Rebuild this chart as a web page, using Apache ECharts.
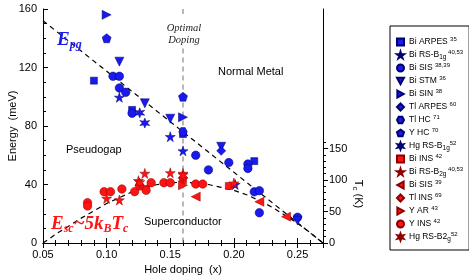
<!DOCTYPE html>
<html><head><meta charset="utf-8">
<script src="https://cdn.jsdelivr.net/npm/echarts@6/dist/echarts.min.js"></script>
<style>html,body{margin:0;padding:0;background:#fff}#c{width:469px;height:280px}</style>
</head><body><div id="c"></div>
<script>
// ---------- data ----------
const xTickLabels = [0.05, 0.10, 0.15, 0.20, 0.25];
const yTickLabels = [0, 40, 80, 120, 160];
const tcTickLabels = [0, 50, 100, 150];
const tcMinorTicks = [10, 20, 30, 40, 60, 70, 80, 90, 110, 120, 130, 140, 160];
const meVperK = 5 * 0.08617;          // E_sc ~ 5 kB Tc

const epgLine = [[0.05, 152], [0.27, 0]];
const domeX = [0.05, 0.06, 0.07, 0.08, 0.09, 0.10, 0.11, 0.12, 0.13, 0.14, 0.15, 0.16, 0.17, 0.18, 0.19, 0.20, 0.21, 0.22, 0.23, 0.24, 0.25, 0.26, 0.27];
const domeE = [0, 6, 11.5, 17, 22, 27, 31, 35, 38, 40, 41.2, 41.5, 41, 40, 38, 36, 33, 29, 24.5, 19, 13.5, 7, 0];
const optimalLine = [[0.16, 160], [0.16, 154], [0.16, '-'], [0.16, 133], [0.16, 0]];

// blue: pseudogap energies (meV)
const biArpes = [[0.09, 111], [0.12, 91], [0.16, 74.5], [0.216, 56]];
const biRsB1g = [[0.11, 99.6], [0.15, 72.7], [0.16, 63], [0.201, 40]];
const biSisB = [[0.105, 114], [0.11, 114], [0.11, 106], [0.115, 103], [0.12, 88.7], [0.17, 60], [0.18, 50], [0.196, 55], [0.211, 54], [0.211, 51], [0.216, 35], [0.22, 35.8], [0.22, 20.7], [0.25, 17.6]];
const biStm = [[0.11, 124], [0.13, 95.5], [0.15, 85], [0.19, 65.8], [0.25, 15.3]];
const biSin = [[0.10, 156], [0.16, 86]];
const tlArpes = [[0.19, 63]];
const tlHc = [[0.16, 76]];
const yHc = [[0.10, 140], [0.16, 100]];
const hgRsB1g = [[0.126, 89], [0.13, 82]];
// red: superconducting energies (meV)
const biIns = [[0.16, 43], [0.196, 39]];
const biRsB2g = [[0.10, 30.5], [0.11, 29.4], [0.125, 42.6], [0.13, 47.6], [0.15, 48], [0.16, 47.6], [0.20, 41]];
const biSisR = [[0.13, 37.4], [0.17, 31.7], [0.22, 28.2], [0.241, 18]];
const tlIns = [[0.16, 44.5]];
const yAr = [[0.16, 39.5]];
const yIns = [[0.085, 27.6], [0.085, 25.3], [0.098, 35.1], [0.103, 35.1], [0.112, 36.9], [0.122, 35.1], [0.126, 39], [0.131, 36], [0.135, 41.2], [0.145, 41.2], [0.15, 41.2], [0.17, 40.3], [0.1755, 40.3]];
const hgRsB2g = [[0.16, 46], [0.126, 41]];

const seriesNames = ['Bi ARPES', 'Bi RS-B1g', 'Bi SIS', 'Bi STM', 'Bi SIN', 'Tl ARPES', 'Tl HC', 'Y HC', 'Hg RS-B1g',
  'Bi INS', 'Bi RS-B2g', 'Bi SIS (sc)', 'Tl INS', 'Y AR', 'Y INS', 'Hg RS-B2g'];
const legendLabels = ['{n|Bi ARPES }{p|35}', '{n|Bi RS-B}{b|1g}{p| 40,53}', '{n|Bi SIS }{p|38,39}', '{n|Bi STM }{p|36}',
  '{n|Bi SIN }{p|38}', '{n|Tl ARPES }{p|60}', '{n|Tl HC }{p|71}', '{n|Y HC }{p|70}', '{n|Hg RS-B}{b|1g}{p|52}',
  '{n|Bi INS }{p|42}', '{n|Bi RS-B}{b|2g}{p| 40,53}', '{n|Bi SIS }{p|39}', '{n|Tl INS }{p|69}', '{n|Y AR }{p|43}',
  '{n|Y INS }{p|42}', '{n|Hg RS-B2}{b|g}{p|52}'];

// ---------- styles ----------
const BLUE = '#1a1aee', BLUE_EDGE = '#00006e', RED = '#ff1414', RED_EDGE = '#8a0000';
const STAR5 = 'path://M50,0 L61,35 L98,35 L68,57 L79,91 L50,70 L21,91 L32,57 L2,35 L39,35 Z';
const STAR6 = 'path://M50,0 L61,30.9 L93.3,25 L72,50 L93.3,75 L61,69.1 L50,100 L39,69.1 L6.7,75 L28,50 L6.7,25 L39,30.9 Z';
const PENT = 'path://M50,0 L98,35 L79,91 L21,91 L2,35 Z';
const HEX = 'path://M25,2 L75,2 L100,50 L75,98 L25,98 L0,50 Z';
const TRI_D = 'path://M0,0 L100,0 L50,90 Z';
const TRI_R = 'path://M0,0 L90,50 L0,100 Z';
const TRI_L = 'path://M90,0 L0,50 L90,100 Z';

function sc(i, data, symbol, size, blue) {
  return {
    type: 'scatter', name: seriesNames[i], data: data, symbol: symbol, symbolSize: size, z: 5,
    itemStyle: { color: blue ? BLUE : RED, borderColor: blue ? BLUE_EDGE : RED_EDGE, borderWidth: 0.5, opacity: 1 }
  };
}

const FONT = 'Liberation Sans, Arial, sans-serif';
const SERIF = 'Liberation Serif, Times New Roman, serif';

const chart = echarts.init(document.getElementById('c'), null, { renderer: 'canvas' });
const option = {
  animation: false,
  backgroundColor: '#fff',
  grid: { left: 43, right: 146, top: 9, bottom: 37, containLabel: false, outerBoundsMode: 'none' },
  xAxis: [{
    type: 'value', position: 'bottom', min: 0.05, max: 0.27, interval: 0.05,
    axisLine: { lineStyle: { color: '#000', width: 1 } },
    axisTick: { inside: true, length: 5, lineStyle: { color: '#000' } },
    minorTick: { show: true, splitNumber: 5, length: 3, lineStyle: { color: '#000' } },
    splitLine: { show: false },
    axisLabel: { color: '#000', fontSize: 11, fontFamily: FONT, margin: 6, customValues: xTickLabels, formatter: v => v.toFixed(2) },
    name: 'Hole doping  (x)', nameLocation: 'middle', nameGap: 21, nameMoveOverlap: false,
    nameTextStyle: { color: '#000', fontSize: 11, fontFamily: FONT }
  }, {
    type: 'value', position: 'top', min: 0.05, max: 0.27, interval: 0.05,
    axisLine: { lineStyle: { color: '#000', width: 1 } },
    axisTick: { inside: true, length: 5, lineStyle: { color: '#000' } },
    minorTick: { show: true, splitNumber: 5, length: 3, lineStyle: { color: '#000' } },
    splitLine: { show: false }, axisLabel: { show: false }
  }],
  yAxis: [{
    type: 'value', position: 'left', min: 0, max: 160, interval: 40,
    axisLine: { show: true, lineStyle: { color: '#000', width: 1 } },
    axisTick: { show: true, inside: true, length: 5, lineStyle: { color: '#000' } },
    minorTick: { show: true, splitNumber: 4, length: 3, lineStyle: { color: '#000' } },
    splitLine: { show: false },
    axisLabel: { color: '#000', fontSize: 11, fontFamily: FONT, margin: 6, customValues: yTickLabels },
    name: 'Energy  (meV)', nameLocation: 'middle', nameGap: 25, nameRotate: 90, nameMoveOverlap: false,
    nameTextStyle: { color: '#000', fontSize: 11, fontFamily: FONT }
  }, {
    type: 'value', position: 'right', min: 0, max: 160 / meVperK,
    axisLine: { show: true, lineStyle: { color: '#000', width: 1 } },
    axisTick: { show: true, inside: false, length: 5, customValues: tcTickLabels, lineStyle: { color: '#000' } },
    splitLine: { show: false },
    axisLabel: { color: '#000', fontSize: 11, fontFamily: FONT, margin: 6, customValues: tcTickLabels }
  }, {
    type: 'value', position: 'right', min: 0, max: 160 / meVperK,
    axisLine: { show: false },
    axisTick: { show: true, inside: false, length: 3, customValues: tcMinorTicks, lineStyle: { color: '#000' } },
    splitLine: { show: false }, axisLabel: { show: false }
  }],
  legend: {
    orient: 'vertical', left: 390, top: 26, padding: [10, 6, 7, 6], itemGap: 1,
    itemWidth: 7, itemHeight: 7,
    borderColor: '#000', borderWidth: 1, backgroundColor: '#fff',
    data: seriesNames,
    formatter: name => legendLabels[seriesNames.indexOf(name)],
    textStyle: {
      fontFamily: FONT, fontSize: 9, color: '#000', lineHeight: 12,
      rich: {
        n: { fontSize: 8.5, fontFamily: FONT, lineHeight: 12 },
        p: { fontSize: 6, fontFamily: FONT, verticalAlign: 'top', lineHeight: 12 },
        b: { fontSize: 6.5, fontFamily: FONT, verticalAlign: 'bottom', lineHeight: 12 }
      }
    }
  },
  series: [
    { type: 'line', data: epgLine, symbol: 'none', z: 2, silent: true,
      lineStyle: { color: '#000', width: 1.2, type: [5, 4] } },
    { type: 'line', data: domeX.map((x, i) => [x, domeE[i]]), symbol: 'none', z: 2, silent: true, smooth: false,
      lineStyle: { color: '#000', width: 1.2, type: [5, 4] } },
    { type: 'line', data: optimalLine, symbol: 'none', z: 2, silent: true, connectNulls: false,
      lineStyle: { color: '#888', width: 1.2, type: [5, 4] } },
    sc(0, biArpes, 'rect', 7, true),
    sc(1, biRsB1g, STAR5, 10, true),
    sc(2, biSisB, 'circle', 8.5, true),
    sc(3, biStm, TRI_D, 9, true),
    sc(4, biSin, TRI_R, 9, true),
    sc(5, tlArpes, 'diamond', 9, true),
    sc(6, tlHc, HEX, 8.5, true),
    sc(7, yHc, PENT, 9, true),
    sc(8, hgRsB1g, STAR6, 10, true),
    sc(9, biIns, 'rect', 7, false),
    sc(10, biRsB2g, STAR5, 10, false),
    sc(11, biSisR, TRI_L, 9, false),
    sc(12, tlIns, 'diamond', 9, false),
    sc(13, yAr, TRI_R, 9, false),
    sc(14, yIns, 'circle', 8.5, false),
    sc(15, hgRsB2g, STAR6, 10, false)
  ],
  graphic: [
    { type: 'text', left: 57, top: 31, z: 100, style: {
      text: '{e|E}{s|pg}', fill: BLUE,
      rich: { e: { fontSize: 19, fontWeight: 'bold', fontStyle: 'italic', fontFamily: SERIF, fill: BLUE, lineHeight: 20 },
              s: { fontSize: 12, fontWeight: 'bold', fontStyle: 'italic', fontFamily: SERIF, fill: BLUE, verticalAlign: 'bottom', lineHeight: 20 } } } },
    { type: 'text', left: 51, top: 215, z: 100, style: {
      text: '{e|E}{s|sc}{e|~5k}{s|B}{e|T}{s|c}', fill: RED,
      rich: { e: { fontSize: 19, fontWeight: 'bold', fontStyle: 'italic', fontFamily: SERIF, fill: RED, lineHeight: 20 },
              s: { fontSize: 12, fontWeight: 'bold', fontStyle: 'italic', fontFamily: SERIF, fill: RED, verticalAlign: 'bottom', lineHeight: 20 } } } },
    { type: 'text', x: 184, y: 22, z: 100, style: { text: 'Optimal\nDoping', align: 'center', fill: '#222',
      fontSize: 10.5, fontStyle: 'italic', fontFamily: SERIF, lineHeight: 12 } },
    { type: 'text', left: 218, top: 66, z: 100, style: { text: 'Normal Metal', fill: '#000', fontSize: 11, fontFamily: FONT } },
    { type: 'text', left: 66, top: 144, z: 100, style: { text: 'Pseudogap', fill: '#000', fontSize: 11, fontFamily: FONT } },
    { type: 'text', left: 144, top: 216, z: 100, style: { text: 'Superconductor', fill: '#000', fontSize: 11, fontFamily: FONT } },
    { type: 'text', x: 358, y: 194, rotation: -Math.PI / 2, z: 100, style: {
      text: '{t|T}{s|c}{t| (K)}', align: 'center', verticalAlign: 'middle', fill: '#000',
      rich: { t: { fontSize: 11, fontFamily: FONT, fill: '#000', lineHeight: 13 },
              s: { fontSize: 8, fontFamily: FONT, fill: '#000', verticalAlign: 'bottom', lineHeight: 13 } } } }
  ]
};
chart.setOption(option);
</script></body></html>
